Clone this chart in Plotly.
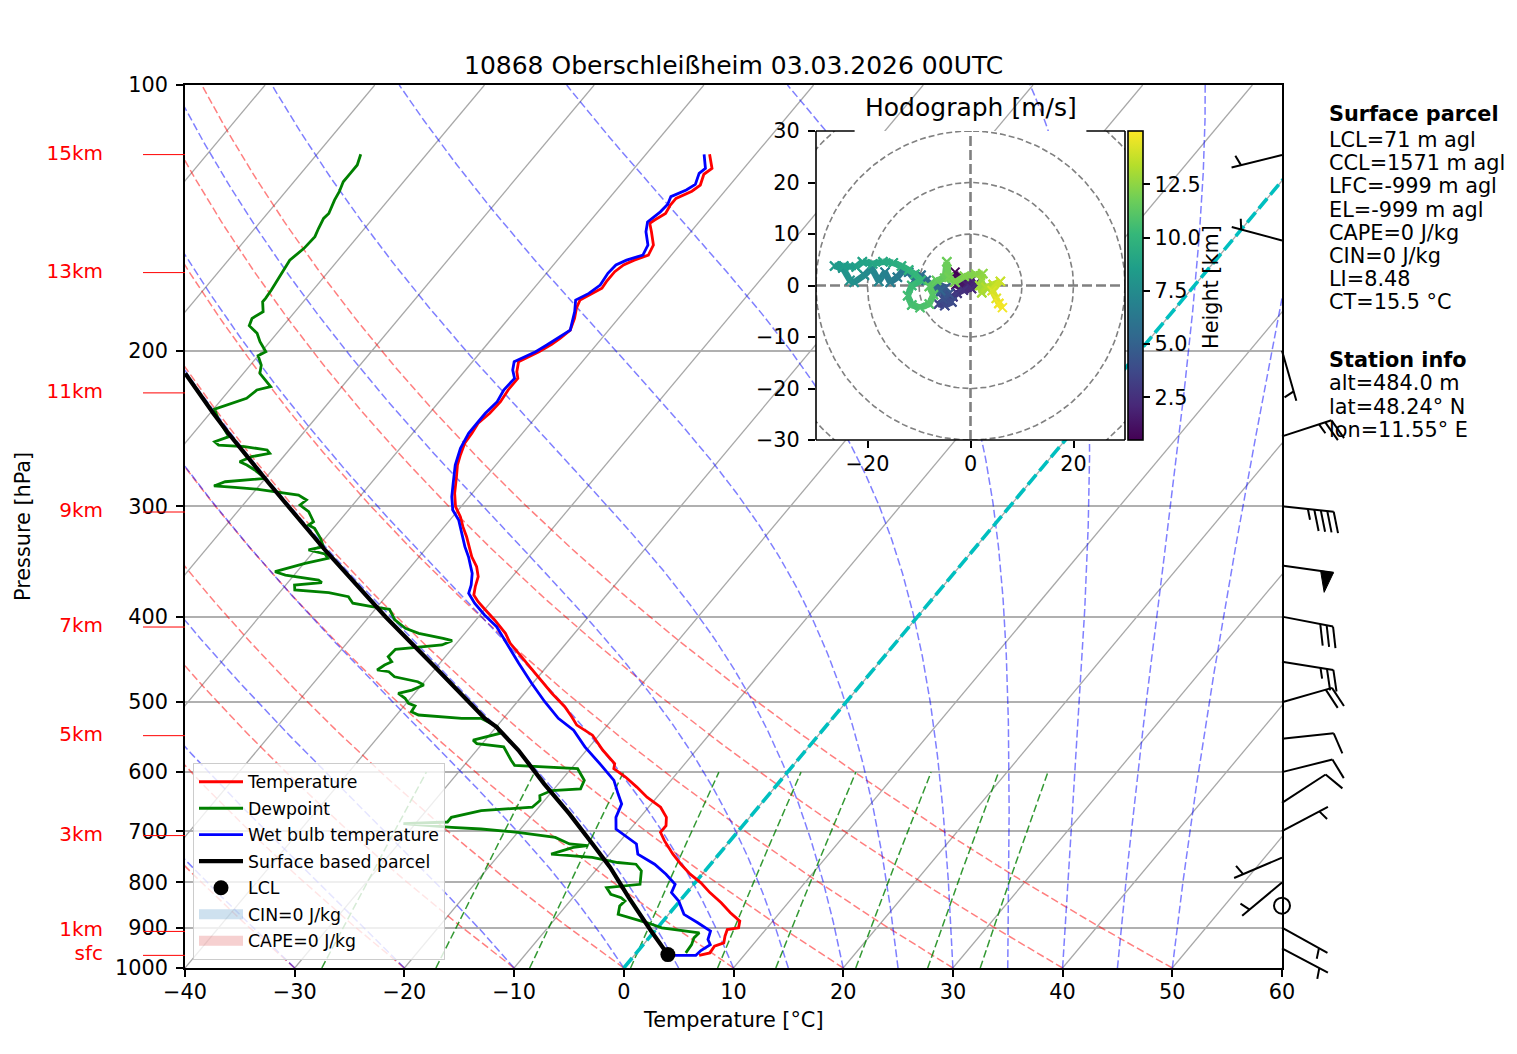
import numpy as np
import plotly.graph_objects as go
from plotly.colors import sample_colorscale

# ======================= DATA =======================
TITLE = "10868 Oberschleißheim 03.03.2026 00UTC"

temp_p = [
    967.4, 961.4, 944.7, 936.6, 920.4, 904.5, 900.5, 884.9, 865.7, 843.4,
    821.5, 800.4, 783.0, 762.9, 743.1, 717.5, 702.0, 689.9, 675.1, 657.5,
    640.6, 623.9, 607.7, 594.7, 587.0, 566.8, 544.9, 530.8, 519.3, 505.9,
    488.5, 467.9, 444.1, 428.8, 417.8, 403.5, 393.1, 384.7, 378.1, 370.0,
    360.4, 351.2, 342.2, 333.3, 324.8, 316.4, 308.2, 300.3, 290.0, 277.7,
    269.4, 262.4, 254.5, 248.0, 241.6, 235.4, 228.4, 221.5, 214.9, 211.2,
    205.8, 200.5, 196.7, 193.6, 189.5, 183.8, 179.0, 175.2, 172.9, 169.9,
    167.0, 162.7, 159.9, 157.9, 155.8, 151.8, 146.6, 143.4, 142.2, 139.8,
    136.8, 134.4, 131.9, 129.8, 126.2, 124.3, 119.8]
temp_T = [
    5.9, 6.7, 6.6, 7.2, 6.8, 6.5, 7.4, 7.0, 5.5, 3.9,
    2.1, 0.5, -1.1, -2.7, -4.2, -6.0, -7.0, -7.0, -7.6, -8.9,
    -10.9, -12.6, -14.4, -16.1, -16.4, -18.5, -20.6, -22.8, -23.9, -25.3,
    -27.5, -30.0, -33.0, -35.1, -36.3, -38.3, -39.9, -41.2, -42.1, -42.6,
    -43.1, -44.0, -45.2, -46.2, -47.2, -48.3, -49.3, -50.5, -51.6, -52.7,
    -53.5, -54.0, -54.5, -54.6, -54.8, -54.5, -54.4, -54.6, -54.6, -55.2,
    -55.8, -54.7, -54.1, -53.8, -53.5, -54.0, -54.6, -54.9, -54.4, -53.8,
    -53.9, -53.9, -53.6, -53.0, -52.1, -52.4, -53.6, -54.4, -54.2, -53.7,
    -53.9, -53.9, -53.0, -52.7, -53.2, -52.9, -54.2]

dew_p = [
    961.4, 940.8, 924.5, 912.3, 900.5, 888.8, 869.5, 850.7, 839.7, 832.5,
    825.2, 810.8, 803.9, 776.3, 762.9, 759.5, 749.6, 743.1, 730.1, 726.9,
    723.7, 711.4, 702.0, 696.0, 692.9, 686.1, 683.4, 675.1, 663.3, 657.5,
    646.1, 637.8, 629.5, 626.7, 613.1, 594.7, 589.5, 581.8, 561.8, 557.0,
    552.1, 542.5, 533.2, 521.6, 521.5, 517.0, 512.5, 505.0, 501.4, 494.9,
    488.5, 484.4, 478.1, 474.0, 467.9, 461.8, 459.7, 453.8, 449.9, 444.1,
    435.6, 430.7, 425.9, 423.3, 417.8, 412.4, 403.5, 392.4, 389.8, 386.3,
    379.8, 375.8, 373.2, 368.4, 366.1, 363.6, 358.9, 355.8, 348.1, 343.6,
    339.7, 336.2, 333.3, 326.1, 317.7, 315.0, 312.3, 304.3, 299.0, 295.1,
    291.3, 287.0, 285.5, 284.5, 281.4, 278.9, 272.9, 269.4, 267.1, 263.6,
    261.3, 259.0, 256.8, 255.7, 253.5, 250.2, 238.5, 232.8, 226.4, 221.5,
    219.6, 212.1, 207.6, 202.6, 200.5, 195.3, 191.1, 187.3, 183.8, 180.6,
    176.0, 174.4, 170.7, 166.3, 161.3, 157.9, 153.1, 148.5, 145.3, 141.6,
    139.8, 135.0, 132.1, 128.7, 125.9, 123.2, 119.8]
dew_T = [
    4.5, 4.4, 4.1, 4.2, 0.4, -1.3, -4.6, -5.1, -5.0, -5.6,
    -6.8, -7.7, -4.9, -5.8, -6.8, -8.6, -11.3, -15.3, -13.8, -12.6,
    -14.4, -16.2, -20.0, -23.6, -26.4, -31.1, -27.2, -27.2, -25.0, -20.6,
    -20.4, -20.8, -20.1, -17.6, -17.9, -19.4, -25.4, -26.1, -27.8, -30.5,
    -31.1, -29.2, -29.9, -32.0, -33.8, -38.0, -38.9, -39.0, -39.8, -40.5,
    -41.5, -40.5, -39.8, -40.6, -43.1, -44.0, -45.2, -44.9, -44.5, -45.2,
    -45.1, -41.2, -40.6, -41.6, -44.2, -45.8, -47.4, -48.7, -50.5, -52.5,
    -53.4, -55.5, -58.8, -59.2, -56.9, -57.4, -60.8, -62.0, -59.9, -58.2,
    -58.8, -60.6, -59.5, -60.4, -61.7, -62.5, -62.3, -63.5, -64.8, -64.6,
    -65.7, -69.8, -72.1, -74.1, -73.4, -70.0, -71.6, -72.7, -73.6, -72.9,
    -71.5, -72.0, -74.3, -76.8, -77.4, -76.5, -78.9, -79.9, -77.8, -77.5,
    -76.5, -78.5, -79.0, -80.0, -79.6, -80.9, -81.8, -83.1, -83.4, -82.9,
    -83.7, -83.7, -83.8, -84.0, -84.2, -84.4, -84.0, -83.9, -84.2, -84.5,
    -84.4, -84.9, -85.1, -85.5, -85.5, -85.5, -86.0]

wb_p = [
    967.4, 967.4, 955.6, 940.8, 928.4, 908.5, 888.8, 869.5, 839.7, 821.5,
    803.9, 783.0, 762.9, 743.1, 723.7, 708.2, 696.0, 675.1, 651.9, 634.9,
    613.1, 589.5, 561.8, 537.9, 521.5, 499.4, 476.0, 451.8, 428.8, 410.7,
    398.3, 386.3, 376.4, 368.4, 357.3, 342.2, 333.3, 319.1, 310.9, 302.9,
    292.6, 282.5, 269.4, 257.9, 248.0, 241.6, 235.4, 228.4, 221.5, 214.9,
    210.3, 205.8, 200.5, 197.0, 193.6, 189.5, 180.6, 175.2, 172.2, 168.5,
    163.4, 159.9, 157.9, 155.8, 151.8, 146.6, 142.9, 139.2, 136.5, 133.8,
    131.5, 129.6, 125.9, 124.3, 119.8]
wb_T = [
    3.0, 5.6, 5.7, 6.1, 5.5, 5.1, 3.3, 1.4, -0.1, -1.4,
    -1.7, -3.3, -5.1, -7.4, -8.3, -10.0, -11.3, -12.2, -12.7, -13.8,
    -15.2, -17.5, -20.4, -22.7, -25.0, -27.5, -30.1, -32.8, -35.4, -37.6,
    -39.6, -41.4, -42.7, -43.1, -43.9, -45.5, -46.6, -48.2, -49.2, -50.5,
    -51.6, -52.5, -53.7, -54.5, -54.9, -54.9, -54.9, -54.7, -55.0, -54.9,
    -55.7, -56.2, -55.0, -54.5, -54.1, -53.5, -54.5, -55.3, -54.6, -54.2,
    -54.4, -54.3, -53.7, -52.6, -52.9, -54.1, -54.7, -54.3, -54.2, -54.5,
    -53.6, -53.2, -53.7, -53.5, -54.7]

parcel_p = [965.7, 908.5, 832.5, 769.4, 723.7, 669.1, 618.6, 566.8, 533.2,
            521.5, 455.8, 400.1, 336.2, 282.5, 248.0, 235.4, 212.1]
parcel_T = [3.0, -0.3, -4.9, -8.9, -12.3, -16.7, -21.3, -26.2, -30.0,
            -31.7, -40.2, -48.5, -59.1, -69.3, -76.8, -79.7, -85.3]

lcl_p = 965.7
lcl_T = 3.0

# wind barbs: pressure [hPa], speed [kt], direction [deg, from]
barb_p = [950, 900, 850, 800, 750, 700, 650, 600, 550, 500, 450, 400, 350, 300, 250, 200, 150, 120]
barb_spd = [5, 5, 0, 5, 5, 5, 10, 10, 10, 20, 25, 30, 50, 45, 25, 5, 5, 5]
barb_dir = [118, 119, 0, 230, 247, 62, 57, 76, 84, 74, 99, 101, 98, 96, 72, 164, 285, 256]

# height markers on the left
km_p = [119.9, 163.1, 223.2, 304.5, 411.0, 545.6, 708.0, 909.0, 967.6]
km_lab = ["15km", "13km", "11km", "9km", "7km", "5km", "3km", "1km", "sfc"]

# hodograph (height km, u, v m/s)
hodo_h = [0.48, 0.6, 0.75, 0.9, 1.05, 1.2, 1.35, 1.5, 1.7, 1.9,
          2.1, 2.4, 2.7, 3.0, 3.2, 3.4, 3.6, 3.8, 4.0, 4.2,
          4.4, 4.6, 4.8, 5.0, 5.2, 5.4, 5.6, 5.8, 6.0, 6.2,
          6.4, 6.6, 6.8, 7.0, 7.2, 7.4, 7.6, 7.8, 8.0, 8.2,
          8.4, 8.6, 8.8, 9.0, 9.2, 9.4, 9.6, 9.8, 10.0, 10.15,
          10.3, 10.45, 10.6, 10.75, 10.9, 11.05, 11.2, 11.35, 11.5, 11.65,
          11.8, 11.95, 12.1, 12.25, 12.4, 12.6, 12.8, 13.0, 13.2, 13.4,
          13.7, 14.0, 14.3, 14.6, 14.9]
hodo_u = [-3.0, -2.6, -2.2, -1.0, -2.8, -1.8, -0.3, 0.4, -0.8, 1.0,
          0.2, -1.4, -2.6, -3.4, -4.8, -6.2, -5.0, -3.6, -5.4, -4.2,
          -5.8, -4.8, -6.4, -5.8, -7.2, -8.6, -9.6, -10.8, -12.0, -13.2,
          -14.2, -15.6, -16.6, -17.8, -19.2, -20.6, -22.6, -23.4, -24.8, -26.4,
          -24.6, -22.2, -21.0, -19.0, -17.0, -15.0, -13.4, -12.0, -10.8, -9.6,
          -11.4, -12.2, -11.4, -9.8, -8.0, -7.2, -8.0, -6.6, -5.0, -4.6,
          -4.2, -3.0, -1.2, 1.0, 2.4, 2.2, 1.8, 2.2, 3.0, 4.4,
          5.8, 4.2, 5.0, 5.5, 6.2]
hodo_v = [2.6, 1.6, 1.3, 0.9, 0.1, -0.4, 0.6, 1.3, 0.2, 0.4,
          -0.6, -0.9, -1.5, -2.2, -2.6, -3.6, -3.9, -3.2, -2.6, -1.6,
          -1.2, -0.4, 0.2, -1.0, -0.3, 1.0, 2.0, 1.2, 2.6, 2.8,
          1.6, 0.6, 2.6, 0.8, 3.4, 2.0, 0.6, 1.0, 3.4, 3.8,
          3.8, 3.6, 4.6, 4.2, 4.6, 4.4, 3.8, 3.0, 2.2, 1.0,
          0.0, -2.0, -3.8, -4.3, -3.6, -1.8, -0.2, 1.0, 1.4, 4.6,
          1.6, 0.6, 1.8, 2.2, 2.3, 1.0, 0.0, -1.4, -0.4, 0.2,
          0.8, -1.0, -2.5, -3.5, -4.3]

# background line families
iso_T = list(range(-100, 61, 10))
dry_T0 = list(range(-40, 51, 10))
moist_T0 = [-40, -30, -20, -10, 0, 5, 10, 15, 20, 25, 30, 35, 40, 45, 50]
mix_w = [0.0004, 0.001, 0.002, 0.004, 0.007, 0.01, 0.016, 0.024, 0.032]

parcel_text = ["LCL=71 m agl", "CCL=1571 m agl", "LFC=-999 m agl", "EL=-999 m agl",
               "CAPE=0 J/kg", "CIN=0 J/kg", "LI=8.48", "CT=15.5 °C"]
station_text = ["alt=484.0 m", "lat=48.24° N", "lon=11.55° E"]

# ======================= LAYOUT CONSTANTS (screen px) =======================
W, H = 1517, 1054
OFF = 8                                       # page offset of the figure (body margin)
PL, PR, PT, PB = 185, 1282, 85, 968           # main plot box in screen px
PPD = PB - PT                                 # px per decade of pressure
SKEW = 67.3                                   # degC shift per decade
HL, HR, HT, HB = 816, 1125, 131, 440          # hodograph box px
FONT = "DejaVu Sans"
FS = 20.8
MINUS = "\u2212"


def fx(xp):
    return (xp - OFF) / W


def fy(yp):
    return 1 - (yp - OFF) / H


def skew(T, p):
    T = np.asarray(T, float)
    p = np.asarray(p, float)
    return T + SKEW * np.log10(1000.0 / p)


def join(segs):
    xs, ys = [], []
    for x, y in segs:
        xs += list(x) + [None]
        ys += list(y) + [None]
    return xs, ys


fig = go.Figure()


def bg(xs, ys, **kw):
    fig.add_trace(go.Scatter(x=xs, y=ys, mode='lines', hoverinfo='skip',
                             showlegend=False, **kw))


# ---- isotherms
xs, ys = join([(skew([t, t], [1000, 100]), [1000, 100]) for t in iso_T])
bg(xs, ys, line=dict(color='#a8a8a8', width=1.3))

# ---- dry adiabats
p_bg = np.logspace(3, 2, 150)
segs = []
for t0 in dry_T0:
    T = (t0 + 273.15) * (p_bg / 1000.0) ** 0.28571 - 273.15
    segs.append((skew(T, p_bg), p_bg))
xs, ys = join(segs)
bg(xs, ys, line=dict(color='rgba(255,0,0,0.5)', width=1.5, dash='7.7px,3.3px'))


# ---- moist adiabats
def moist_adiabat(t0c, p):
    Rd, Cp, Lv, eps = 287.04749, 1004.6662, 2.50084e6, 0.6219569

    def f(T, pp):
        es = 6.112 * np.exp(17.67 * (T - 273.15) / (T - 29.65))
        rs = eps * es / (pp - es)
        return (Rd * T + Lv * rs) / (Cp + Lv * Lv * rs * eps / (Rd * T * T)) / pp

    T = t0c + 273.15
    out = [T]
    for i in range(1, len(p)):
        h = p[i] - p[i - 1]
        p0 = p[i - 1]
        k1 = f(T, p0)
        k2 = f(T + 0.5 * h * k1, p0 + 0.5 * h)
        k3 = f(T + 0.5 * h * k2, p0 + 0.5 * h)
        k4 = f(T + h * k3, p0 + h)
        T = T + h * (k1 + 2 * k2 + 2 * k3 + k4) / 6.0
        out.append(T)
    return np.array(out) - 273.15


p_m = np.logspace(3, 2, 300)
segs = [(skew(moist_adiabat(t0, p_m), p_m), p_m) for t0 in moist_T0]
xs, ys = join(segs)
bg(xs, ys, line=dict(color='rgba(0,0,255,0.5)', width=1.5, dash='7.7px,3.3px'))

# ---- mixing ratio lines
p_mix = np.logspace(3, np.log10(600), 40)
segs = []
for w in mix_w:
    e = p_mix * w / (0.6219569 + w)
    a = np.log(e / 6.112)
    Td = 243.5 * a / (17.67 - a)
    segs.append((skew(Td, p_mix), p_mix))
xs, ys = join(segs)
bg(xs, ys, line=dict(color='rgba(0,128,0,0.8)', width=1.5, dash='7.7px,3.3px'))

# ---- 0 degC isotherm
bg(list(skew([0, 0], [1000, 100])), [1000, 100],
   line=dict(color='#00bfbf', width=3.6, dash='13px,5px'))

# ---- profiles
fig.add_trace(go.Scatter(x=skew(temp_T, temp_p), y=temp_p, mode='lines', name='Temperature',
                         line=dict(color='red', width=2.8), legendgroup='g1'))
fig.add_trace(go.Scatter(x=skew(dew_T, dew_p), y=dew_p, mode='lines', name='Dewpoint',
                         line=dict(color='green', width=2.8), legendgroup='g2'))
fig.add_trace(go.Scatter(x=skew(wb_T, wb_p), y=wb_p, mode='lines', name='Wet bulb temperature',
                         line=dict(color='blue', width=2.8), legendgroup='g3'))
fig.add_trace(go.Scatter(x=skew(parcel_T, parcel_p), y=parcel_p, mode='lines',
                         name='Surface based parcel', line=dict(color='black', width=4.2),
                         legendgroup='g4'))
fig.add_trace(go.Scatter(x=skew([lcl_T], [lcl_p]), y=[lcl_p], mode='markers', name='LCL',
                         marker=dict(color='black', size=15), legendgroup='g5'))
fig.add_trace(go.Scatter(x=[None], y=[None], mode='lines', name='CIN=0 J/kg',
                         line=dict(width=12, color='rgba(31,119,180,0.22)'), legendgroup='g6'))
fig.add_trace(go.Scatter(x=[None], y=[None], mode='lines', name='CAPE=0 J/kg',
                         line=dict(width=12, color='rgba(214,39,40,0.22)'), legendgroup='g7'))

# ======================= HODOGRAPH =======================
hkw = dict(xaxis='x2', yaxis='y2', hoverinfo='skip', showlegend=False)
fig.add_trace(go.Scatter(x=[-30, 30, 30, -30, -30], y=[-30, -30, 30, 30, -30], mode='lines',
                         fill='toself', fillcolor='white', line=dict(width=0, color='white'), **hkw))
ang = np.linspace(0, 2 * np.pi, 200)
segs = [(r * np.cos(ang), r * np.sin(ang)) for r in (10, 20, 30, 40)]
xs, ys = join(segs)
fig.add_trace(go.Scatter(x=xs, y=ys, mode='lines',
                         line=dict(color='#808080', width=1.6, dash='6px,3px'), **hkw))
fig.add_trace(go.Scatter(x=[-30, 30, None, 0, 0], y=[0, 0, None, -30, 30], mode='lines',
                         line=dict(color='#808080', width=2.6, dash='10px,4px'), **hkw))
HMIN, HMAX = 0.5, 15.0
for i in range(len(hodo_h) - 1):
    hm = 0.5 * (hodo_h[i] + hodo_h[i + 1])
    col = sample_colorscale('Viridis', [(hm - HMIN) / (HMAX - HMIN)])[0]
    fig.add_trace(go.Scatter(x=hodo_u[i:i + 2], y=hodo_v[i:i + 2], mode='lines+markers',
                             line=dict(color=col, width=6.5),
                             marker=dict(symbol='x-thin', size=9, color=col,
                                         line=dict(width=2, color=col)), **hkw))
fig.add_trace(go.Scatter(
    x=[0, 0], y=[0, 0], mode='markers',
    marker=dict(size=0.1, opacity=0, color=[HMIN, HMAX], colorscale='Viridis', cmin=HMIN, cmax=HMAX,
                showscale=True,
                colorbar=dict(x=fx(1128), xanchor='left', y=fy((HT + HB) / 2), yanchor='middle',
                              len=(HB - HT) / H, lenmode='fraction', thickness=15,
                              thicknessmode='pixels', xpad=0, ypad=0, outlinewidth=1.6,
                              outlinecolor='black', tickvals=[2.5, 5, 7.5, 10, 12.5],
                              ticktext=['2.5', '5.0', '7.5', '10.0', '12.5'], ticks='outside',
                              ticklen=7, tickwidth=1.6, tickcolor='black',
                              tickfont=dict(size=FS, color='black', family=FONT))),
    **hkw))

# ======================= WIND BARBS & HEIGHT MARKS (screen-pixel overlay) =======================
okw = dict(xaxis='x3', yaxis='y3', hoverinfo='skip', showlegend=False)
BL = 52.0


def barb(spd, d):
    fh, fw, sp = 0.4 * BL, 0.25 * BL, 0.125 * BL
    r = np.deg2rad(d)
    sx, sy = np.sin(r), np.cos(r)
    bx, by = np.cos(r), -np.sin(r)

    def pt(a, b):
        return (a * sx + b * bx, -(a * sy + b * by))

    mag = 5 * round(spd / 5.0)
    nflag = int(mag // 50)
    nbarb = int((mag % 50) // 10)
    half = (mag % 10) >= 5
    lines = [[pt(0, 0), pt(BL, 0)]]
    flags = []
    off = BL
    for _ in range(nflag):
        if off != BL:
            off += sp / 2
        flags.append([pt(off, 0), pt(off - fw / 2, fh), pt(off - fw, 0), pt(off, 0)])
        off -= fw + sp
    for _ in range(nbarb):
        lines.append([pt(off, 0), pt(off + fw / 2, fh)])
        off -= sp
    if half:
        if off == BL:
            off -= 1.5 * sp
        lines.append([pt(off, 0), pt(off + fw / 4, fh / 2)])
    return lines, flags


lx, ly, fxs, fys = [], [], [], []
calm_p = []
for p, s, d in zip(barb_p, barb_spd, barb_dir):
    if s < 5:
        calm_p.append(p)
        continue
    lines, flags = barb(s, d)
    for seg in lines:
        for (dx, dy) in seg:
            lx.append(PR + dx)
            ly.append(p * 10 ** (dy / PPD))
        lx.append(None)
        ly.append(None)
    for poly in flags:
        for (dx, dy) in poly:
            fxs.append(PR + dx)
            fys.append(p * 10 ** (dy / PPD))
        fxs.append(None)
        fys.append(None)
fig.add_trace(go.Scatter(x=lx, y=ly, mode='lines', line=dict(color='black', width=2), **okw))
fig.add_trace(go.Scatter(x=fxs, y=fys, mode='lines', fill='toself', fillcolor='black',
                         line=dict(color='black', width=1), **okw))
fig.add_trace(go.Scatter(x=[PR] * len(calm_p), y=calm_p, mode='markers',
                         marker=dict(symbol='circle-open', size=16, color='black',
                                     line=dict(width=2, color='black')), cliponaxis=False, **okw))

xs, ys = join([([143, PL], [p, p]) for p in km_p])
fig.add_trace(go.Scatter(x=xs, y=ys, mode='lines', line=dict(color='red', width=1), **okw))
fig.add_trace(go.Scatter(x=[103] * len(km_p), y=km_p, mode='text', text=km_lab,
                         textposition='middle left', cliponaxis=False,
                         textfont=dict(color='red', size=20, family=FONT), **okw))

# ======================= AXES =======================
axis_common = dict(ticks='outside', ticklen=7, tickwidth=1.6, tickcolor='black',
                   tickfont=dict(size=FS, color='black', family=FONT), zeroline=False,
                   fixedrange=True, automargin=False)
xt = list(range(-40, 61, 10))
fig.update_layout(
    template='none',
    width=W, height=H, autosize=False,
    margin=dict(l=0, r=0, t=0, b=0, pad=0, autoexpand=False),
    paper_bgcolor='white', plot_bgcolor='rgba(0,0,0,0)',
    font=dict(family=FONT, size=FS, color='black'),
    xaxis=dict(domain=[fx(PL), fx(PR)], range=[-40, 60], tickvals=xt,
               ticktext=[(MINUS + str(-v)) if v < 0 else str(v) for v in xt],
               showline=True, mirror=True, linecolor='black', linewidth=1.6,
               showgrid=False, anchor='y', ticklabelstandoff=-3, **axis_common),
    yaxis=dict(domain=[fy(PB), fy(PT)], type='log', range=[3, 2],
               tickvals=[100, 200, 300, 400, 500, 600, 700, 800, 900, 1000],
               ticktext=['100', '200', '300', '400', '500', '600', '700', '800', '900', '1000'],
               showline=True, mirror=True, linecolor='black', linewidth=1.6,
               showgrid=True, gridcolor='#b0b0b0', gridwidth=1.5, anchor='x',
               ticklabelstandoff=4, **axis_common),
    xaxis2=dict(domain=[fx(HL), fx(HR)], range=[-30, 30], tickvals=[-20, 0, 20],
                ticktext=[MINUS + '20', '0', '20'], showline=False, showgrid=False,
                anchor='y2', ticklabelstandoff=-2, **axis_common),
    yaxis2=dict(domain=[fy(HB), fy(HT)], range=[-30, 30], tickvals=list(range(-30, 31, 10)),
                ticktext=[(MINUS + str(-v)) if v < 0 else str(v) for v in range(-30, 31, 10)],
                showline=False, showgrid=False, anchor='x2', ticklabelstandoff=4, **axis_common),
    xaxis3=dict(domain=[0, 1], range=[OFF, W + OFF], visible=False, anchor='y3',
                fixedrange=True, automargin=False),
    yaxis3=dict(domain=[0, 1], type='log',
                range=[3 + (H + OFF - PB) / PPD, 2 - (PT - OFF) / PPD],
                visible=False, anchor='x3', fixedrange=True, automargin=False),
    legend=dict(x=fx(193), y=fy(960), xanchor='left', yanchor='bottom',
                bgcolor='rgba(255,255,255,0.8)', bordercolor='#cccccc', borderwidth=1,
                font=dict(size=17.3, family=FONT, color='black'), traceorder='grouped',
                tracegroupgap=1, itemwidth=44),
    showlegend=True,
)

# hodograph spines (top spine only visible near the corners, as in the reference)
fr = lambda v: (v + 30) / 60.0
spine = dict(color='black', width=1.6)
shapes = [
    dict(type='line', xref='x2 domain', yref='y2 domain', x0=0, x1=0, y0=0, y1=1, line=spine),
    dict(type='line', xref='x2 domain', yref='y2 domain', x0=1, x1=1, y0=0, y1=1, line=spine),
    dict(type='line', xref='x2 domain', yref='y2 domain', x0=0, x1=1, y0=0, y1=0, line=spine),
    dict(type='line', xref='x2 domain', yref='y2 domain', x0=0, x1=fr(-22.5), y0=1, y1=1, line=spine),
    dict(type='line', xref='x2 domain', yref='y2 domain', x0=fr(22.5), x1=1, y0=1, y1=1, line=spine),
]
fig.update_layout(shapes=shapes)

# ======================= TEXT =======================
anns = []


def ann(text, x, y, size=FS, xanchor='center', angle=0, color='black'):
    anns.append(dict(text=text, x=fx(x), y=fy(y), xref='paper', yref='paper', showarrow=False,
                     xanchor=xanchor, yanchor='middle', textangle=angle,
                     font=dict(size=size, color=color, family=FONT)))


ann(TITLE, (PL + PR) / 2, 65, size=25)
ann("Temperature [°C]", (PL + PR) / 2, 1020)
ann("Pressure [hPa]", 23, 527, angle=-90)
ann("Hodograph [m/s]", (HL + HR) / 2, 108, size=25)
ann("Height [km]", 1211, 287, angle=-90)

ann("<b>Surface parcel</b>", 1327, 114, xanchor='left')
for i, t in enumerate(parcel_text):
    ann(t, 1327, 140 + 23.2 * i, xanchor='left')
ann("<b>Station info</b>", 1327, 359.5, xanchor='left')
for i, t in enumerate(station_text):
    ann(t, 1327, 383.3 + 23.2 * i, xanchor='left')
fig.update_layout(annotations=anns)

fig.write_html("out.html", config={'displayModeBar': False})
